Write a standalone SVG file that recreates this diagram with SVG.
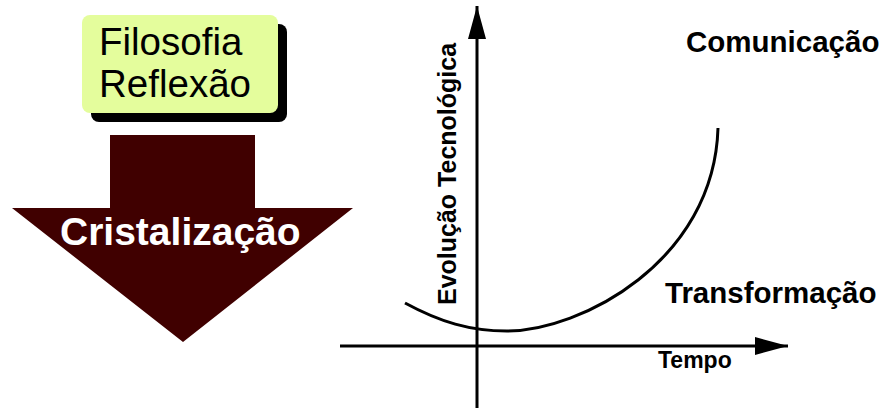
<svg xmlns="http://www.w3.org/2000/svg" width="887" height="411" viewBox="0 0 887 411">
<style>
.t{font-family:"Liberation Sans",Arial,sans-serif;}
.b{font-weight:bold;}
.ax{stroke:#000;stroke-width:3;fill:none;}
</style>
<defs>
<marker id="ah" markerWidth="12" markerHeight="6" refX="11" refY="3" orient="auto" markerUnits="strokeWidth">
<path d="M0,0 L11,3 L0,6 Z" fill="#000"/>
</marker>
</defs>
<rect width="887" height="411" fill="#fff"/>
<g id="filosofia">
<rect x="91" y="24" width="196" height="98" rx="8" fill="#000"/>
<rect x="82" y="15" width="196" height="98" rx="8" fill="#e4fd9c"/>
<text class="t" x="99" y="55" font-size="38.5">Filosofia</text>
<text class="t" x="99" y="97" font-size="38.5">Reflexão</text>
</g>
<g id="cristalizacao">
<path d="M110,135 L255,135 L255,208 L353,208 L183,342 L12,208 L110,208 Z" fill="#400000"/>
<text class="t b" x="60" y="245" font-size="39" fill="#fff">Cristalização</text>
</g>
<g id="connectors">
<line class="ax" x1="477" y1="408" x2="477" y2="6" marker-end="url(#ah)"/>
<line class="ax" x1="340" y1="346" x2="788" y2="346" marker-end="url(#ah)"/>
<path class="ax" d="M405,303 C440,322 470,331 507,331 C580,331 714,262 718,128"/>
</g>
<g id="labels">
<text class="t b" font-size="25" transform="translate(456,305) rotate(-90)">Evolução Tecnológica</text>
<text class="t b" x="686" y="52" font-size="29.5">Comunicação</text>
<text class="t b" x="665" y="303" font-size="29.5">Transformação</text>
<text class="t b" x="658" y="368" font-size="23">Tempo</text>
</g>
</svg>
